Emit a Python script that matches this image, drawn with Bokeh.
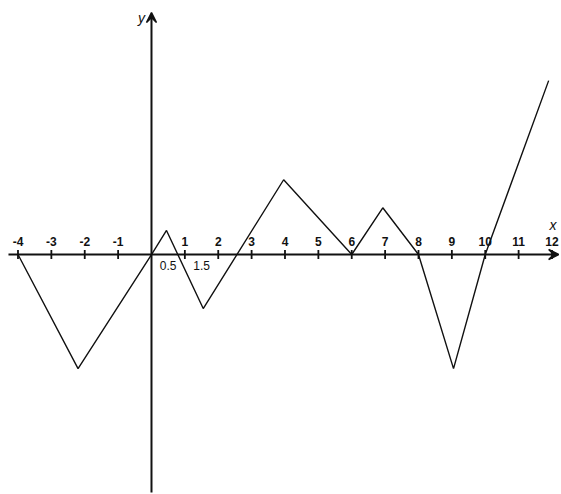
import math
from bokeh.plotting import figure
from bokeh.models import Range1d, Arrow, VeeHead, ColumnDataSource
from bokeh.core.properties import value
from bokeh.embed import file_html
from bokeh.resources import INLINE

# piecewise-linear function vertices
x_vals = [-4, -2.2, 0, 0.45, 1.55, 3.96, 6.0, 6.93, 8.0, 9.05, 10.0, 11.9]
y_vals = [0, -3.42, 0, 0.72, -1.62, 2.24, 0, 1.40, 0, -3.42, 0, 5.21]

tick_vals = [-4, -3, -2, -1, 1, 2, 3, 4, 5, 6, 7, 8, 9, 10, 11, 12]
tick_labels = ["-4", "-3", "-2", "-1", "1", "2", "3", "4", "5", "6", "7", "8", "9", "10", "11", "12"]

extra_vals = [0.5, 1.5]
extra_labels = ["0.5", "1.5"]

FONT = value("Liberation Sans")
INK = "#111111"

p = figure(width=561, height=494, output_backend="svg", toolbar_location=None,
           x_range=Range1d(-4.524, 12.285), y_range=Range1d(-7.191, 7.611),
           min_border=0, outline_line_color=None)
p.xaxis.visible = False
p.yaxis.visible = False
p.xgrid.visible = False
p.ygrid.visible = False
p.background_fill_color = "white"
p.border_fill_color = "white"

# axes with arrowheads
p.add_layout(Arrow(x_start=-4.285, y_start=0, x_end=12.2, y_end=0,
                   line_width=2, line_color=INK,
                   end=VeeHead(size=10, line_color=INK, fill_color=INK, line_width=1.5)))
p.add_layout(Arrow(x_start=0, y_start=-7.13, x_end=0, y_end=7.25,
                   line_width=2, line_color=INK,
                   end=VeeHead(size=10, line_color=INK, fill_color=INK, line_width=1.5)))

# tick marks
ticks = ColumnDataSource(dict(x=tick_vals, y=[0] * len(tick_vals), t=tick_labels))
p.scatter("x", "y", source=ticks, marker="dash", size=9, angle=math.pi / 2,
          line_color=INK, line_width=1.8)

# tick labels above the axis
p.text("x", "y", text="t", source=ticks, y_offset=-13, text_align="center",
       text_baseline="middle", text_font=FONT, text_font_size="12px",
       text_font_style="bold", text_color=INK)

# extra labels below axis
extra = ColumnDataSource(dict(x=extra_vals, y=[0, 0], t=extra_labels))
p.text("x", "y", text="t", source=extra, y_offset=11, text_align="center",
       text_baseline="middle", text_font=FONT, text_font_size="12px",
       text_color=INK)

# axis letters
p.text(x=[12.03], y=[0.87], text=["x"], text_align="center", text_baseline="middle",
       text_font=FONT, text_font_size="14px", text_font_style="italic", text_color=INK)
p.text(x=[-0.3], y=[7.08], text=["y"], text_align="center", text_baseline="middle",
       text_font=FONT, text_font_size="14px", text_font_style="italic", text_color=INK)

# function graph
p.line(x_vals, y_vals, line_color=INK, line_width=1.4)

open("out.html", "w").write(file_html(p, INLINE))
